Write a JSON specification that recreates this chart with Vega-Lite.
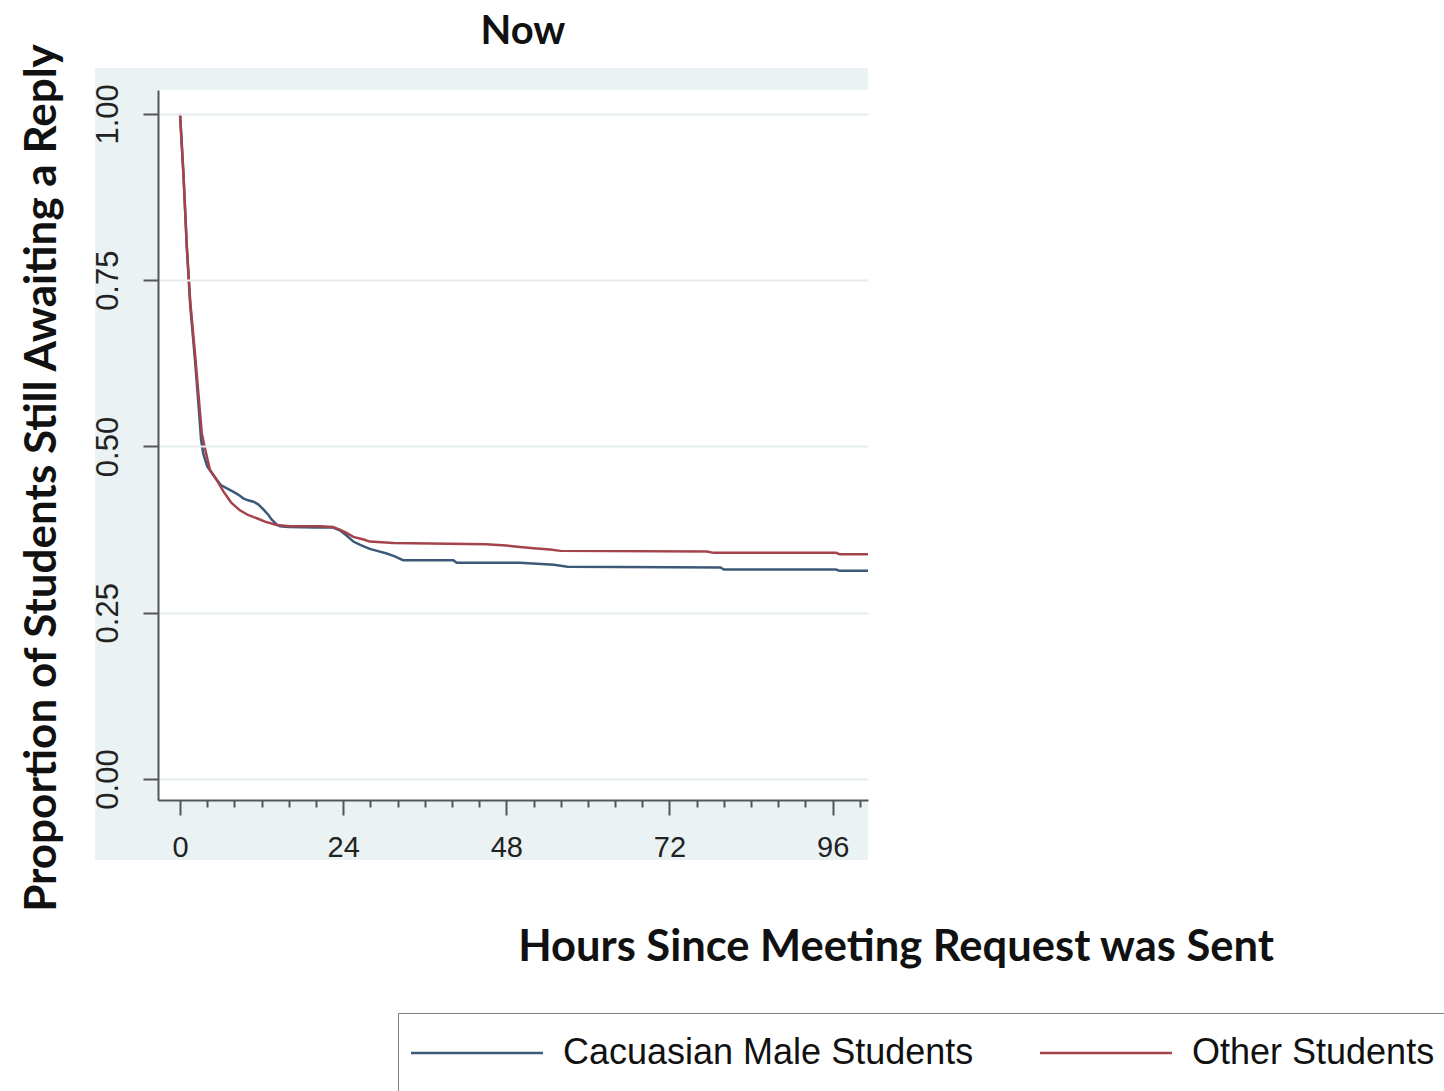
{
  "$schema": "https://vega.github.io/schema/vega-lite/v6.json",
  "width": 710,
  "height": 710,
  "autosize": {"type": "none"},
  "padding": {"left": 158, "top": 90, "right": 576, "bottom": 291},
  "background": "white",
  "config": {
    "view": {"stroke": null, "fill": "white"},
    "axisX": {
      "titleFont": "Lato",
      "titleFontSize": 43.5,
      "titleFontWeight": "bold",
      "titleColor": "#111111",
      "titleX": 737.5,
      "titleY": 160,
      "titleAlign": "center",
      "titleBaseline": "alphabetic",
      "labelOverlap": false,
      "labelFlush": false,
      "labelFont": "Liberation Sans",
      "labelFontSize": 29,
      "labelColor": "#222222",
      "labelBaseline": "alphabetic",
      "labelPadding": 41,
      "tickSize": {"condition": {"test": "datum.value % 24 === 0", "value": 15}, "value": 7},
      "tickWidth": 2,
      "tickColor": "#555555",
      "domainColor": "#555555",
      "domainWidth": 2,
      "grid": false
    },
    "axisY": {
      "titleFont": "Lato",
      "titleFontSize": 44,
      "titleFontWeight": "bold",
      "titleColor": "#111111",
      "titleAngle": 270,
      "titleX": -103,
      "titleY": 387.5,
      "titleAlign": "center",
      "titleBaseline": "alphabetic",
      "labelFont": "Liberation Sans",
      "labelFontSize": 31,
      "labelColor": "#222222",
      "labelAngle": 270,
      "labelAlign": "center",
      "labelBaseline": "alphabetic",
      "labelPadding": 26,
      "tickSize": 15,
      "tickWidth": 2,
      "tickColor": "#555555",
      "domainColor": "#555555",
      "domainWidth": 2,
      "grid": true,
      "gridColor": "#e6edef",
      "gridWidth": 2
    }
  },
  "title": {
    "text": "Now",
    "font": "Lato",
    "fontSize": 40,
    "fontWeight": "bold",
    "color": "#111111",
    "anchor": "middle",
    "frame": "group",
    "baseline": "alphabetic",
    "dx": 10,
    "offset": -41
  },
  "layer": [
    {
      "data": {"values": [{}]},
      "mark": {"type": "rect", "color": "#eaf2f3", "clip": false},
      "encoding": {
        "x": {"datum": -12.5, "type": "quantitative", "title": "Hours Since Meeting Request was Sent", "axis": {"zindex": 1, "values": [0, 4, 8, 12, 16, 20, 24, 28, 32, 36, 40, 44, 48, 52, 56, 60, 64, 68, 72, 76, 80, 84, 88, 92, 96, 100], "labelExpr": "datum.value % 24 === 0 ? datum.label : ''"}, "scale": {"domain": [-3.24, 101.2], "nice": false, "zero": false}},
        "x2": {"datum": 101.2},
        "y": {"datum": -0.122, "type": "quantitative", "title": "Proportion of Students Still Awaiting a Reply", "axis": {"zindex": 1, "values": [0, 0.25, 0.5, 0.75, 1], "format": ".2f"}, "scale": {"domain": [-0.0316, 1.036], "nice": false, "zero": false}},
        "y2": {"datum": 1.069}
      }
    },
    {
      "data": {"values": [{}]},
      "mark": {"type": "rect", "color": "white", "clip": false},
      "encoding": {
        "x": {"datum": -3.24, "type": "quantitative", "title": "Hours Since Meeting Request was Sent", "axis": {"zindex": 1, "values": [0, 4, 8, 12, 16, 20, 24, 28, 32, 36, 40, 44, 48, 52, 56, 60, 64, 68, 72, 76, 80, 84, 88, 92, 96, 100], "labelExpr": "datum.value % 24 === 0 ? datum.label : ''"}},
        "x2": {"datum": 101.2},
        "y": {"datum": -0.0316, "type": "quantitative", "title": "Proportion of Students Still Awaiting a Reply", "axis": {"zindex": 1, "values": [0, 0.25, 0.5, 0.75, 1], "format": ".2f"}},
        "y2": {"datum": 1.036}
      }
    },
    {
      "data": {
        "values": [
          {"group": "Cacuasian Male Students", "hour": 0, "prop": 1.0},
          {"group": "Cacuasian Male Students", "hour": 0.5, "prop": 0.91},
          {"group": "Cacuasian Male Students", "hour": 1.0, "prop": 0.8},
          {"group": "Cacuasian Male Students", "hour": 1.5, "prop": 0.712},
          {"group": "Cacuasian Male Students", "hour": 2.2, "prop": 0.63},
          {"group": "Cacuasian Male Students", "hour": 2.7, "prop": 0.565},
          {"group": "Cacuasian Male Students", "hour": 3.1, "prop": 0.51},
          {"group": "Cacuasian Male Students", "hour": 3.4, "prop": 0.49},
          {"group": "Cacuasian Male Students", "hour": 4.0, "prop": 0.47},
          {"group": "Cacuasian Male Students", "hour": 5.4, "prop": 0.45},
          {"group": "Cacuasian Male Students", "hour": 6.0, "prop": 0.442},
          {"group": "Cacuasian Male Students", "hour": 6.9, "prop": 0.437},
          {"group": "Cacuasian Male Students", "hour": 7.8, "prop": 0.432},
          {"group": "Cacuasian Male Students", "hour": 8.5, "prop": 0.428},
          {"group": "Cacuasian Male Students", "hour": 9.3, "prop": 0.422},
          {"group": "Cacuasian Male Students", "hour": 10.0, "prop": 0.419},
          {"group": "Cacuasian Male Students", "hour": 10.8, "prop": 0.417},
          {"group": "Cacuasian Male Students", "hour": 11.5, "prop": 0.413},
          {"group": "Cacuasian Male Students", "hour": 12.3, "prop": 0.405},
          {"group": "Cacuasian Male Students", "hour": 13.0, "prop": 0.397},
          {"group": "Cacuasian Male Students", "hour": 13.5, "prop": 0.39},
          {"group": "Cacuasian Male Students", "hour": 14.2, "prop": 0.383},
          {"group": "Cacuasian Male Students", "hour": 14.7, "prop": 0.38},
          {"group": "Cacuasian Male Students", "hour": 16, "prop": 0.379},
          {"group": "Cacuasian Male Students", "hour": 20, "prop": 0.378},
          {"group": "Cacuasian Male Students", "hour": 22.5, "prop": 0.378},
          {"group": "Cacuasian Male Students", "hour": 23.5, "prop": 0.374},
          {"group": "Cacuasian Male Students", "hour": 24.5, "prop": 0.366},
          {"group": "Cacuasian Male Students", "hour": 25.5, "prop": 0.357},
          {"group": "Cacuasian Male Students", "hour": 26.5, "prop": 0.352},
          {"group": "Cacuasian Male Students", "hour": 27.9, "prop": 0.346},
          {"group": "Cacuasian Male Students", "hour": 29, "prop": 0.343},
          {"group": "Cacuasian Male Students", "hour": 30.4, "prop": 0.339},
          {"group": "Cacuasian Male Students", "hour": 31.5, "prop": 0.335},
          {"group": "Cacuasian Male Students", "hour": 32.8, "prop": 0.329},
          {"group": "Cacuasian Male Students", "hour": 40.2, "prop": 0.329},
          {"group": "Cacuasian Male Students", "hour": 40.7, "prop": 0.325},
          {"group": "Cacuasian Male Students", "hour": 50, "prop": 0.325},
          {"group": "Cacuasian Male Students", "hour": 55, "prop": 0.322},
          {"group": "Cacuasian Male Students", "hour": 57, "prop": 0.319},
          {"group": "Cacuasian Male Students", "hour": 79.5, "prop": 0.318},
          {"group": "Cacuasian Male Students", "hour": 80, "prop": 0.315},
          {"group": "Cacuasian Male Students", "hour": 96.5, "prop": 0.315},
          {"group": "Cacuasian Male Students", "hour": 97, "prop": 0.313},
          {"group": "Cacuasian Male Students", "hour": 101.2, "prop": 0.313},
          {"group": "Other Students", "hour": 0, "prop": 1.0},
          {"group": "Other Students", "hour": 0.5, "prop": 0.91},
          {"group": "Other Students", "hour": 1.0, "prop": 0.8},
          {"group": "Other Students", "hour": 1.5, "prop": 0.718},
          {"group": "Other Students", "hour": 2.2, "prop": 0.64},
          {"group": "Other Students", "hour": 2.7, "prop": 0.58},
          {"group": "Other Students", "hour": 3.2, "prop": 0.52},
          {"group": "Other Students", "hour": 3.6, "prop": 0.5},
          {"group": "Other Students", "hour": 4.4, "prop": 0.465},
          {"group": "Other Students", "hour": 5.5, "prop": 0.448},
          {"group": "Other Students", "hour": 6.4, "prop": 0.432},
          {"group": "Other Students", "hour": 7.5, "prop": 0.416},
          {"group": "Other Students", "hour": 8.8, "prop": 0.404},
          {"group": "Other Students", "hour": 10, "prop": 0.397},
          {"group": "Other Students", "hour": 11.3, "prop": 0.392},
          {"group": "Other Students", "hour": 12.5, "prop": 0.387},
          {"group": "Other Students", "hour": 14.2, "prop": 0.382},
          {"group": "Other Students", "hour": 16.2, "prop": 0.38},
          {"group": "Other Students", "hour": 20.6, "prop": 0.38},
          {"group": "Other Students", "hour": 22.5, "prop": 0.379},
          {"group": "Other Students", "hour": 23.5, "prop": 0.375},
          {"group": "Other Students", "hour": 24.5, "prop": 0.37},
          {"group": "Other Students", "hour": 25.5, "prop": 0.364},
          {"group": "Other Students", "hour": 27, "prop": 0.36},
          {"group": "Other Students", "hour": 27.9, "prop": 0.357},
          {"group": "Other Students", "hour": 31.4, "prop": 0.355},
          {"group": "Other Students", "hour": 45, "prop": 0.353},
          {"group": "Other Students", "hour": 48, "prop": 0.351},
          {"group": "Other Students", "hour": 50, "prop": 0.349},
          {"group": "Other Students", "hour": 52, "prop": 0.347},
          {"group": "Other Students", "hour": 54.4, "prop": 0.345},
          {"group": "Other Students", "hour": 56, "prop": 0.343},
          {"group": "Other Students", "hour": 77.5, "prop": 0.342},
          {"group": "Other Students", "hour": 78.5, "prop": 0.34},
          {"group": "Other Students", "hour": 96.5, "prop": 0.34},
          {"group": "Other Students", "hour": 97, "prop": 0.338},
          {"group": "Other Students", "hour": 101.2, "prop": 0.338}
        ]
      },
      "mark": {"type": "line", "strokeWidth": 2.5, "clip": true},
      "encoding": {
        "x": {"field": "hour", "type": "quantitative", "title": "Hours Since Meeting Request was Sent", "axis": {"zindex": 1, "values": [0, 4, 8, 12, 16, 20, 24, 28, 32, 36, 40, 44, 48, 52, 56, 60, 64, 68, 72, 76, 80, 84, 88, 92, 96, 100], "labelExpr": "datum.value % 24 === 0 ? datum.label : ''"}},
        "y": {"field": "prop", "type": "quantitative", "title": "Proportion of Students Still Awaiting a Reply", "axis": {"zindex": 1, "values": [0, 0.25, 0.5, 0.75, 1], "format": ".2f"}},
        "color": {
          "field": "group",
          "type": "nominal",
          "scale": {
            "domain": ["Cacuasian Male Students", "Other Students"],
            "range": ["#3c5a78", "#a5434c"]
          },
          "legend": {
            "title": null,
            "orient": "none",
            "legendX": 240,
            "legendY": 923,
            "direction": "horizontal",
            "columns": 2,
            "columnPadding": 61,
            "padding": 22,
            "fillColor": "white",
            "strokeColor": "#808080",
            "symbolType": "M-2.25,0H8.75",
            "symbolSize": 576,
            "symbolStrokeWidth": 2.5,
            "labelFont": "Liberation Sans",
            "labelFontSize": 36,
            "labelColor": "#111111",
            "labelLimit": 2000,
            "labelOffset": 107
          }
        }
      }
    }
  ]
}
